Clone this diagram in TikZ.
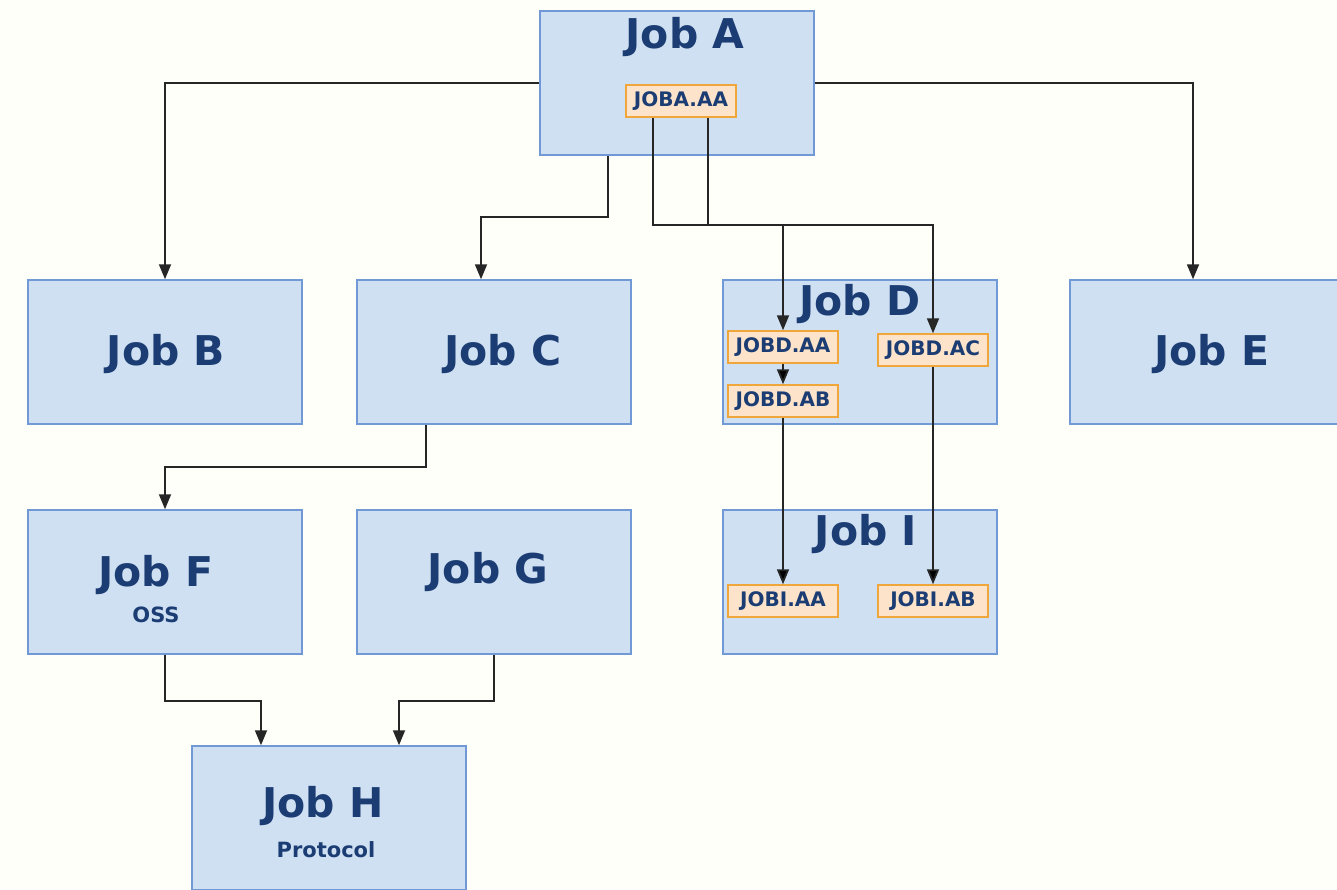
\documentclass[tikz,border=0pt]{standalone}
\usepackage{fontspec}
\setmainfont{DejaVu Sans}
\usetikzlibrary{arrows.meta,calc}
\definecolor{jobfill}{HTML}{CFE0F3}
\definecolor{jobline}{HTML}{7099D6}
\definecolor{jobtext}{HTML}{1B3D73}
\definecolor{subfill}{HTML}{FCE3CA}
\definecolor{subline}{HTML}{EFA63A}
\definecolor{linkgray}{HTML}{262626}

\tikzset{
  job/.style={draw=jobline, fill=jobfill, line width=1.5pt,
    minimum width=274pt, minimum height=144pt, inner sep=0pt},
  sub/.style={draw=subline, fill=subfill, line width=1.5pt,
    minimum width=110pt, minimum height=32pt, inner sep=0pt,
    font=\fontsize{20}{20}\selectfont\bfseries, text=jobtext},
  title/.style={font=\fontsize{41}{41}\selectfont\bfseries, text=jobtext, inner sep=0pt},
  note/.style={font=\fontsize{21}{21}\selectfont\bfseries, text=jobtext, inner sep=0pt},
  link/.style={draw=linkgray, line width=1.8pt, -{Triangle[length=15pt,width=12pt]}}
}

\begin{document}
\begin{tikzpicture}[x=1pt,y=-1pt]

\fill[white!98!yellow] (0,0) rectangle (1337,889);
\useasboundingbox (0,0) rectangle (1337,889);
\clip (0,0) rectangle (1337,889);

% boxes
\node[job] (a) at (677,83) {};
\node[job] (b) at (165,352) {};
\node[job] (c) at (494,352) {};
\node[job] (d) at (860,352) {};
\node[job] (e) at (1207,352) {};
\node[job] (f) at (165,582) {};
\node[job] (g) at (494,582) {};
\node[job] (i) at (860,582) {};
\node[job] (h) at (329,818) {};

% titles
\node[title] at (685,37) {Job A};
\node[title] at (166,354) {Job B};
\node[title] at (503,354) {Job C};
\node[title] at (860,304) {Job D};
\node[title] at (1212,354) {Job E};
\node[title] at (156,575) {Job F};
\node[note]  at (156,615) {OSS};
\node[title] at (488,572) {Job G};
\node[title] at (866,534) {Job I};
\node[title] at (323,806) {Job H};
\node[note]  at (326,850) {Protocol};

% inner steps
\node[sub] (a1) at (681,101) {JOBA.AA};
\node[sub] (d1) at (783,347) {JOBD.AA};
\node[sub] (d2) at (783,401) {JOBD.AB};
\node[sub] (d3) at (933,350) {JOBD.AC};
\node[sub] (i1) at (783,601) {JOBI.AA};
\node[sub] (i2) at (933,601) {JOBI.AB};

% links
\draw[link] (a.west) -| (b.north);
\draw[link] (a.east) -| ([xshift=-14pt]e.north);
\draw[link] ([xshift=-69pt]a.south) -- ++(0,61) -| ([xshift=-13pt]c.north);
\draw[link] ([xshift=-28pt]a1.south) -- ++(0,107) -| (d1.north);
\draw[link] ([xshift=27pt]a1.south) -- ++(0,107) -| (d3.north);
\path[link] (d1) edge (d2) (d2) edge (i1) (d3) edge (i2);
\draw[link] ([xshift=-68pt]c.south) -- ++(0,42) -| (f.north);
\draw[link] (f.south) -- ++(0,46) -| ([xshift=-68pt]h.north);
\draw[link] (g.south) -- ++(0,46) -| ([xshift=70pt]h.north);

\end{tikzpicture}
\end{document}
